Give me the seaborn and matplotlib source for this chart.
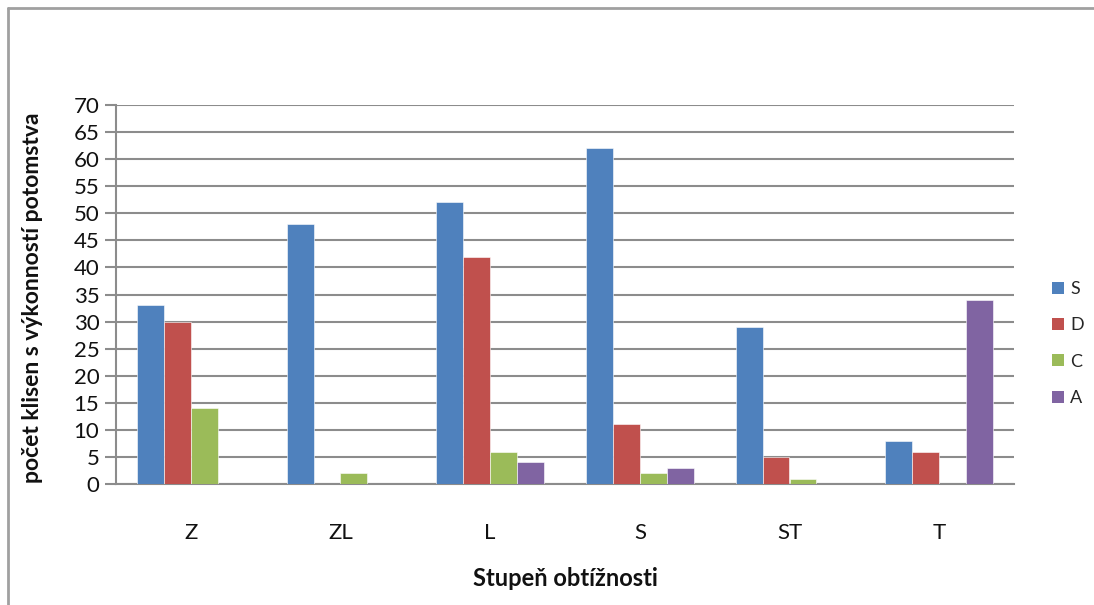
import matplotlib
matplotlib.use("Agg")
import matplotlib.pyplot as plt
import seaborn as sns
import pandas as pd
from matplotlib.lines import Line2D
from matplotlib.patches import Patch

# Difficulty levels and counts per parent category
levels = ["Z", "ZL", "L", "S", "ST", "T"]
series_names = ["S", "D", "C", "A"]
values_S = [33, 48, 52, 62, 29, 8]
values_D = [30, 0, 42, 11, 5, 6]
values_C = [14, 2, 6, 2, 1, 0]
values_A = [0, 0, 4, 3, 0, 34]
yticks = list(range(0, 75, 5))
colors = ["#4F81BD", "#C0504D", "#9BBB59", "#8064A2"]

rows = []
for name, vals in zip(series_names, [values_S, values_D, values_C, values_A]):
    for lvl, v in zip(levels, vals):
        rows.append({"level": lvl, "series": name, "count": v})
df = pd.DataFrame(rows)

sns.set_theme(style="white")
plt.rcParams["font.family"] = ["Lato", "DejaVu Sans"]

W, H = 1094, 605
fig = plt.figure(figsize=(W / 100, H / 100), dpi=100)
ax = fig.add_axes([116 / W, 1 - 484 / H, (1014 - 116) / W, (484 - 105) / H])

sns.barplot(data=df, x="level", y="count", hue="series", order=levels,
            hue_order=series_names, palette=colors, saturation=1, width=0.72,
            gap=0, edgecolor="white", linewidth=0.4, ax=ax, legend=False,
            zorder=3)

ax.set_ylim(0, 70)
ax.set_xlim(-0.5, len(levels) - 0.5)
ax.set_yticks(yticks)
ax.set_yticklabels([str(t) for t in yticks], fontsize=16, color="#111111")
ax.yaxis.grid(True, color="#8c8c8c", linewidth=1.5, zorder=0)
ax.set_axisbelow(True)
ax.tick_params(axis="y", which="major", length=8, width=1.5, color="#8c8c8c",
               pad=4, left=True)
ax.tick_params(axis="x", length=0, pad=28, labelsize=16, labelcolor="#111111")

for side in ["top", "right"]:
    ax.spines[side].set_visible(False)
ax.spines["left"].set_color("#8c8c8c")
ax.spines["left"].set_linewidth(1.5)
ax.spines["bottom"].set_color("#8c8c8c")
ax.spines["bottom"].set_linewidth(1.5)

ax.set_xlabel("")
ax.set_ylabel("")
fig.text(565 / W, 1 - 578 / H, "Stupeň obtížnosti", ha="center", va="center",
         fontsize=17, fontweight="bold", color="#111111")
fig.text(33 / W, 1 - 298 / H, "počet klisen s výkonností potomstva", ha="center",
         va="center", rotation=90, fontsize=16.5, fontweight="bold",
         color="#111111")

handles = [Patch(facecolor=c, edgecolor="none") for c in colors]
fig.legend(handles, series_names, loc="upper left",
           bbox_to_anchor=(1036 / W, 1 - 265 / H), frameon=False, fontsize=13,
           handlelength=0.65, handleheight=0.65, handletextpad=0.35,
           labelspacing=1.12)

# Outer frame around the chart area
frame_kw = dict(color="#a0a0a0", linewidth=2, transform=fig.transFigure)
fig.add_artist(Line2D([8 / W, 8 / W], [0, 1 - 8 / H], **frame_kw))
fig.add_artist(Line2D([8 / W, 1], [1 - 8 / H, 1 - 8 / H], **frame_kw))

fig.savefig("out.png", dpi=100, facecolor="white")
